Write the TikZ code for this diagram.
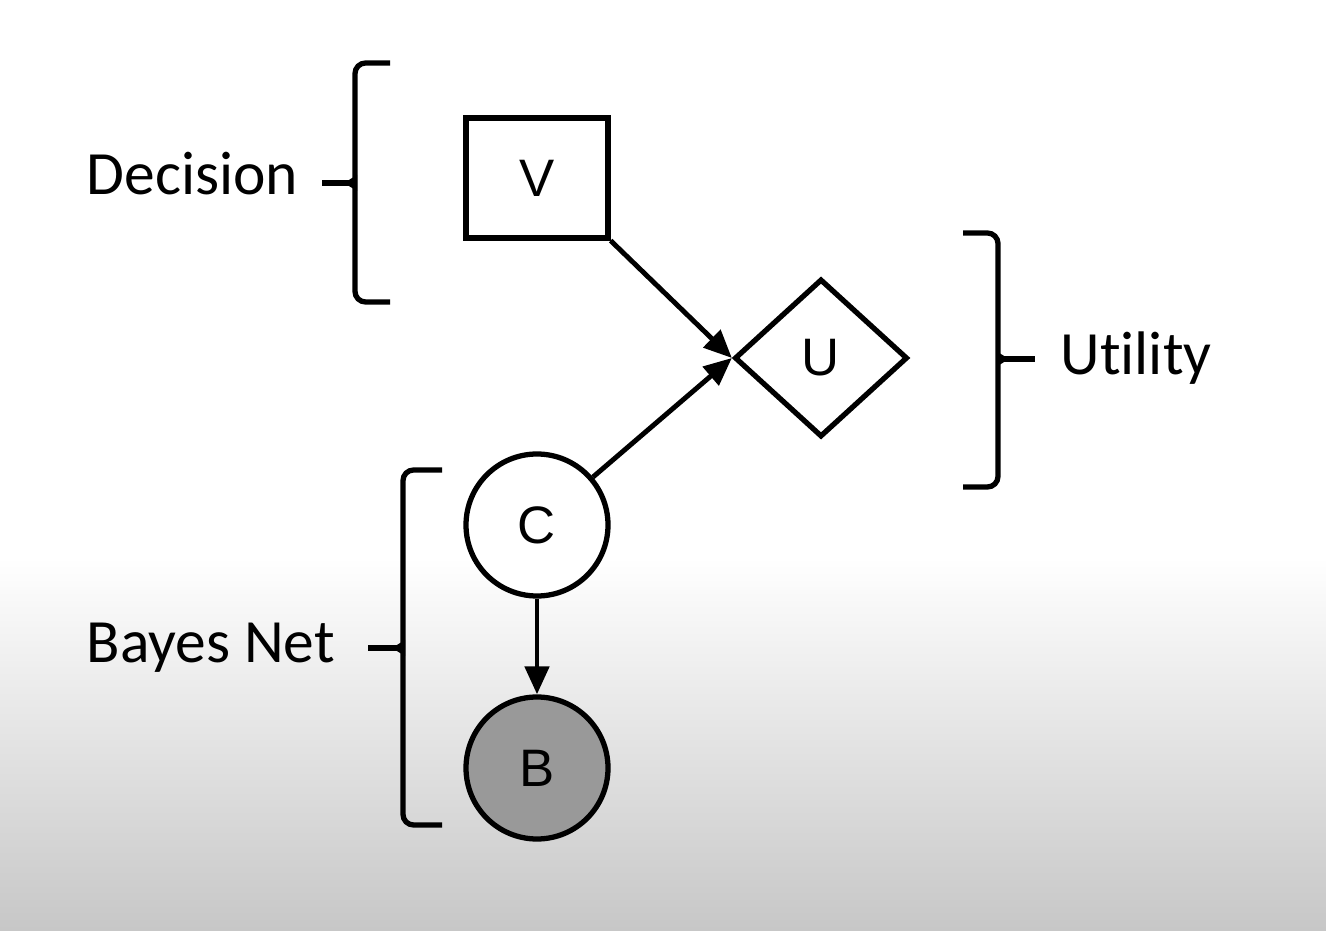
\documentclass[tikz,border=0pt]{standalone}
\usepackage{fontspec}
\setmainfont{Carlito}[Ligatures=NoCommon]
\newfontfamily\nodefont{Liberation Sans}
\usepackage{tikz}
\usetikzlibrary{shapes.geometric,arrows.meta}
\tikzset{
  netnode/.style={draw,line width=1.5pt,font=\nodefont\fontsize{15}{17}\selectfont,inner sep=0pt},
  netarrow/.style={line width=1.4pt,-{Triangle[length=0.28cm,width=0.24cm]}},
  bracket/.style={line width=1.5pt,rounded corners=3pt},
  label/.style={font=\fontsize{17.5}{20}\selectfont,anchor=base west,inner sep=0pt}
}

\begin{document}
\begin{tikzpicture}

\useasboundingbox (0,0) rectangle (13.26,9.30);
\fill[white] (0,0) rectangle (13.26,9.30);
\shade[top color=white,bottom color=black!22] (0,0) rectangle (13.26,3.73);

\node[netnode,rectangle,minimum width=1.42cm,minimum height=1.20cm] (V) at (5.37,7.52) {V};
\node[netnode,diamond,minimum width=1.73cm,minimum height=1.58cm,fill=white] (U) at (8.21,5.72) {U};
\node[netnode,circle,minimum size=1.42cm,fill=white] (C) at (5.37,4.05) {C};
\node[netnode,circle,minimum size=1.42cm,fill=black!40] (B) at (5.37,1.62) {B};

\draw[netarrow] (V.south east) -- (U.west);
\draw[netarrow] (C) -- (U.west);
\draw[netarrow] (C) -- (B);

% brackets
\draw[bracket] (3.90,8.67) -| (3.55,6.28) -- (3.90,6.28);
\draw[line width=1.5pt] (3.55,7.47) -- (3.22,7.47);
\fill (3.57,7.55) -- (3.44,7.47) -- (3.57,7.39) -- cycle;

\draw[bracket] (4.42,4.60) -| (4.03,1.05) -- (4.42,1.05);
\draw[line width=1.5pt] (4.03,2.82) -- (3.68,2.82);
\fill (4.05,2.90) -- (3.92,2.82) -- (4.05,2.74) -- cycle;

\draw[bracket] (9.63,6.97) -| (9.98,4.43) -- (9.63,4.43);
\draw[line width=1.5pt] (9.98,5.71) -- (10.35,5.71);
\fill (9.96,5.79) -- (10.09,5.71) -- (9.96,5.63) -- cycle;

\node[label] (decision) at (0.86,7.35) {Decision};
\node[label] (bayesnet) at (0.86,2.67) {Bayes Net};
\node[label] (utility) at (10.60,5.55) {Utility};

\end{tikzpicture}
\end{document}
